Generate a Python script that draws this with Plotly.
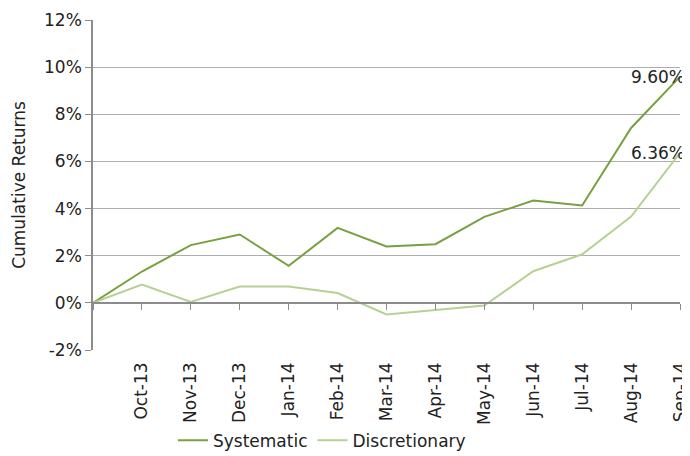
import plotly.graph_objects as go

categories = ["", "Oct-13", "Nov-13", "Dec-13", "Jan-14", "Feb-14", "Mar-14",
              "Apr-14", "May-14", "Jun-14", "Jul-14", "Aug-14", "Sep-14"]
systematic = [0.0, 1.33, 2.45, 2.90, 1.57, 3.18, 2.39, 2.49, 3.65, 4.34, 4.13, 7.42, 9.60]
discretionary = [0.0, 0.78, 0.04, 0.69, 0.69, 0.42, -0.49, -0.31, -0.11, 1.34, 2.06, 3.66, 6.36]
y_ticks = [-2, 0, 2, 4, 6, 8, 10, 12]
y_tick_labels = [f"{v}%" for v in y_ticks]

FONT = "Century Gothic, DejaVu Sans, sans-serif"
C_SYS = "#78A040"
C_DIS = "#B5D193"

fig = go.Figure()
fig.add_trace(go.Scatter(x=categories, y=systematic, name="Systematic", mode="lines",
                         line=dict(color=C_SYS, width=2)))
fig.add_trace(go.Scatter(x=categories, y=discretionary, name="Discretionary", mode="lines",
                         line=dict(color=C_DIS, width=2)))
# invisible trace on overlay axis for zero-line ticks
fig.add_trace(go.Scatter(x=categories, y=[None]*len(categories), xaxis="x2", showlegend=False,
                         hoverinfo="skip"))

for name, vals in (("Systematic", systematic), ("Discretionary", discretionary)):
    fig.add_annotation(x=categories[-1], y=vals[-1], text=f"{vals[-1]:.2f}%", showarrow=False,
                       xanchor="right", yanchor="middle", xshift=7, yshift=0,
                       font=dict(family=FONT, size=17, color="#222"))

fig.update_layout(
    width=682, height=448,
    margin=dict(l=85, r=10, t=12, b=106, autoexpand=False),
    paper_bgcolor="white", plot_bgcolor="white",
    font=dict(family=FONT, size=17, color="#222"),
    showlegend=True,
    legend=dict(orientation="h", x=0.39, y=-0.275, xanchor="center", yanchor="middle",
                font=dict(family=FONT, size=17, color="#222"), itemwidth=30,
                tracegroupgap=0, bgcolor="rgba(0,0,0,0)"),
    xaxis=dict(type="category", range=[0, len(categories) - 1], showgrid=False,
               showline=False, zeroline=False, ticks="", tickangle=-90,
               ticklabelstandoff=8, tickfont=dict(size=17), automargin=False),
    xaxis2=dict(type="category", overlaying="x", anchor="free", position=2 / 14,
                range=[0, len(categories) - 1], showline=True, linecolor="#8C8C8C",
                linewidth=1.5, ticks="outside", ticklen=6, tickcolor="#8C8C8C",
                showticklabels=False, showgrid=False, zeroline=False, automargin=False),
    yaxis=dict(range=[-2, 12], tickvals=y_ticks, ticktext=y_tick_labels,
               showgrid=True, gridcolor="#ADADAD", gridwidth=1.3,
               showline=True, linecolor="#8C8C8C", linewidth=1.5,
               ticks="outside", ticklen=6, tickcolor="#8C8C8C",
               zeroline=False, domain=[0, 1], automargin=False,
               title=dict(text="Cumulative Returns", font=dict(size=17), standoff=14)),
)

fig.write_html("out.html")
